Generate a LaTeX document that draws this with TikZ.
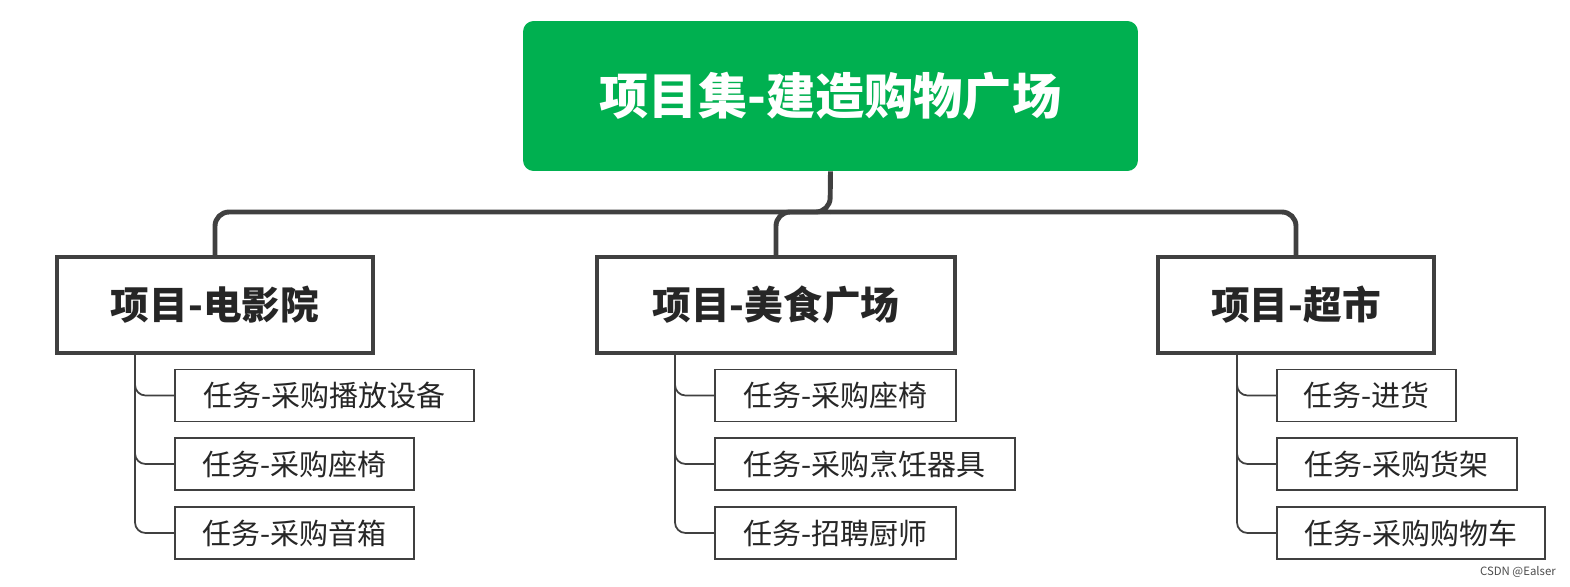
\documentclass[tikz,border=0pt]{standalone}
\usepackage{fontspec}
\setmainfont{Noto Sans CJK SC}
\usetikzlibrary{calc}
\definecolor{gr}{HTML}{00B050}
\definecolor{dk}{HTML}{404040}
\begin{document}
\begin{tikzpicture}[x=0.02cm,y=-0.02cm,
 root/.style={fill=gr,rounded corners=6pt,text=white,font=\fontsize{28}{30}\selectfont\bfseries,minimum width=12.3cm,minimum height=3cm,inner sep=0},
 proj/.style={draw=dk,line width=2.3pt,fill=white,font=\fontsize{22}{24}\selectfont\bfseries,text=black!85,minimum height=1.92cm,inner sep=0},
 task/.style={draw=dk,line width=1pt,fill=white,font=\fontsize{16.5}{18}\selectfont,text=black!85,minimum height=1.04cm,inner sep=0,anchor=west},
 conn/.style={draw=dk,line width=2.8pt,rounded corners=8pt},
 tconn/.style={draw=dk,line width=1pt,rounded corners=6pt}]
\useasboundingbox (0,0) rectangle (1570,586);
\node[root] (r) at (830.5,96) {项目集-建造购物广场};
\node[proj,minimum width=6.32cm] (p1) at (215,305) {项目-电影院};
\node[proj,minimum width=7.16cm] (p2) at (776,305) {项目-美食广场};
\node[proj,minimum width=5.52cm] (p3) at (1296,305) {项目-超市};
\coordinate (j) at (830,212);
\draw[conn] (r.south) -- (j) -| (p1.north);
\draw[conn] (j) -| (p3.north);
\draw[conn] (j) -| (p2.north);
\node[task,minimum width=5.98cm] (a1) at (174,395.5) {任务-采购播放设备};
\node[task,minimum width=4.78cm] (a2) at (174,464) {任务-采购座椅};
\node[task,minimum width=4.78cm] (a3) at (174,533) {任务-采购音箱};
\node[task,minimum width=4.82cm] (b1) at (714,395.5) {任务-采购座椅};
\node[task,minimum width=6.0cm] (b2) at (714,464) {任务-采购烹饪器具};
\node[task,minimum width=4.82cm] (b3) at (714,533) {任务-招聘厨师};
\node[task,minimum width=3.58cm] (c1) at (1276,395.5) {任务-进货};
\node[task,minimum width=4.8cm] (c2) at (1276,464) {任务-采购货架};
\node[task,minimum width=5.36cm] (c3) at (1276,533) {任务-采购购物车};
\foreach \p/\t/\dx in {p1/a/80,p2/b/80,p3/c/81}{
 \foreach \i in {1,2,3}{
  \draw[tconn] ($(\p.south west)+(\dx,0)$) |- (\t\i.west);
 }}
\node[font=\fontsize{6.5}{7}\selectfont,text=black!70,anchor=east] (w) at (1562,572) {CSDN @Ealser};
\end{tikzpicture}
\end{document}
